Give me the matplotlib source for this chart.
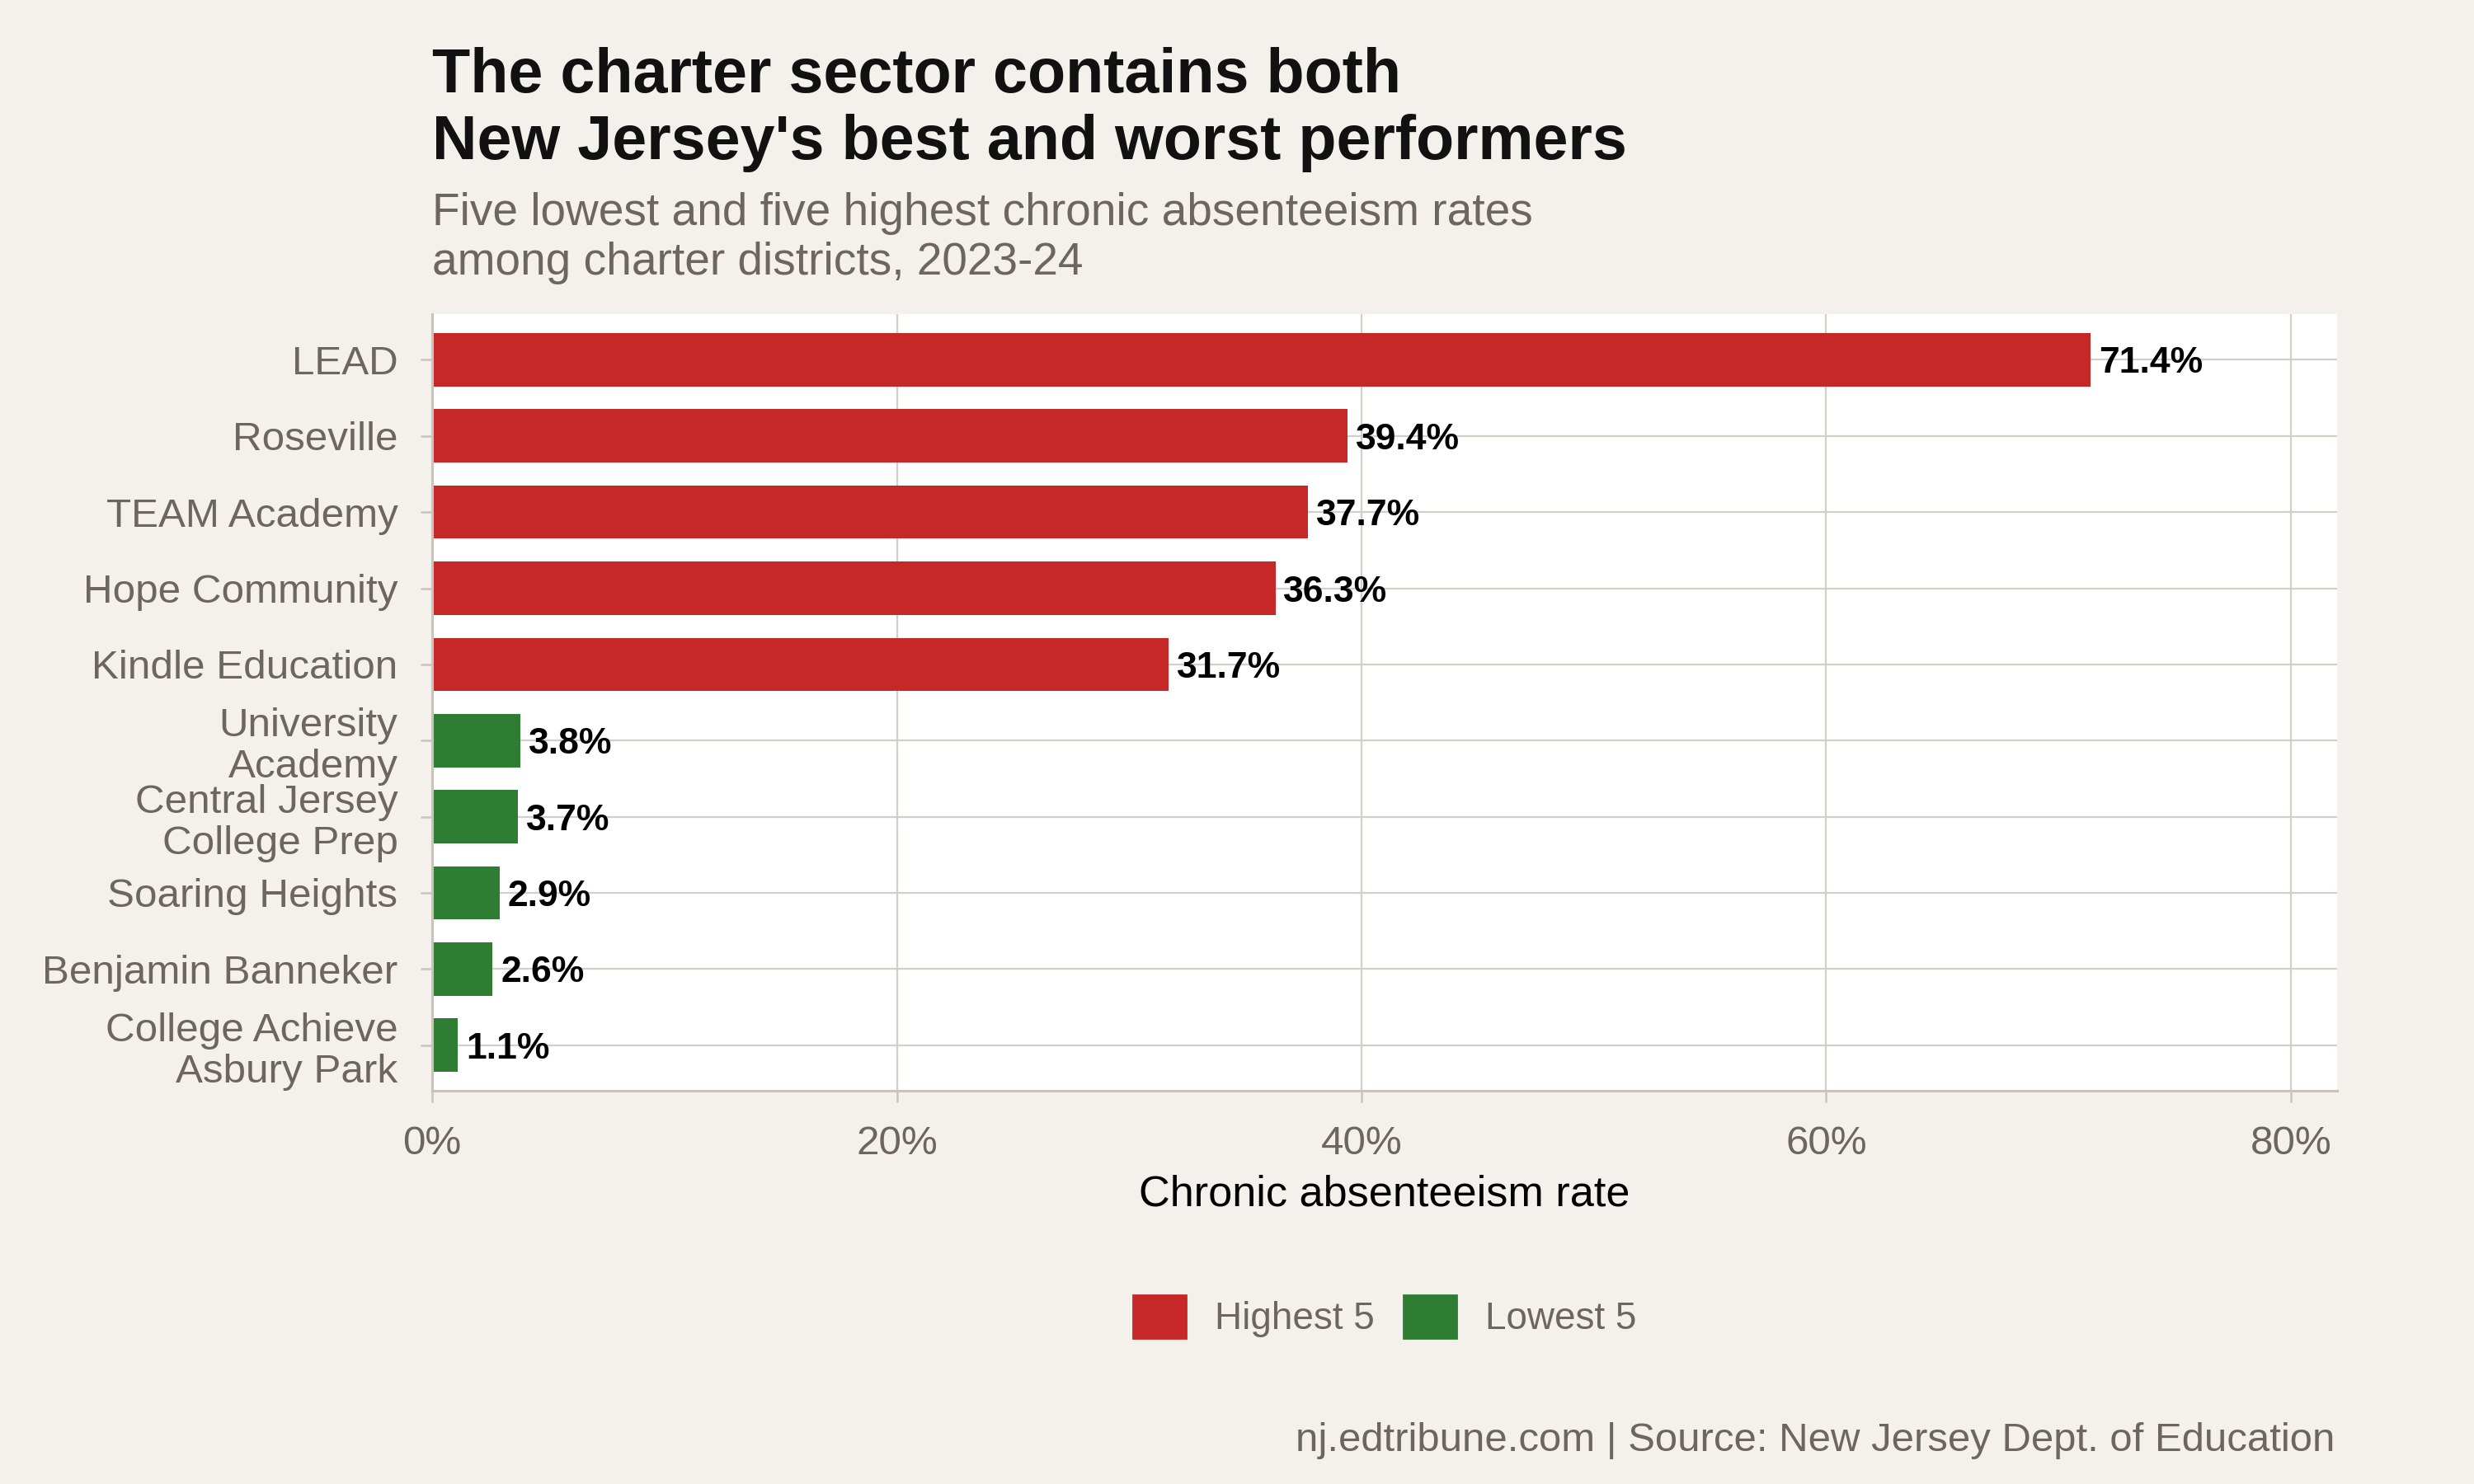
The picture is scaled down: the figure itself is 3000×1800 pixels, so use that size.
import numpy as np
import matplotlib.pyplot as plt
from matplotlib.patches import Patch

plt.rcParams['font.family'] = ['Liberation Sans', 'DejaVu Sans']

# data, top to bottom
districts = ["LEAD", "Roseville", "TEAM Academy", "Hope Community", "Kindle Education",
             "University\nAcademy", "Central Jersey\nCollege Prep", "Soaring Heights",
             "Benjamin Banneker", "College Achieve\nAsbury Park"]
rates = [71.4, 39.4, 37.7, 36.3, 31.7, 3.8, 3.7, 2.9, 2.6, 1.1]
groups = ["Highest 5"] * 5 + ["Lowest 5"] * 5

group_colors = {"Highest 5": "#c62828", "Lowest 5": "#2e7d32"}
bg = "#f4f1ec"
grid_col = "#d4cec6"
axis_col = "#cac3ba"
gray_txt = "#6b6661"

fig = plt.figure(figsize=(15, 9), dpi=200, facecolor=bg)
ax = fig.add_axes([0.1747, 0.265, 0.77, 0.5233])
ax.set_facecolor("white")

n = len(districts)
y = np.arange(n)[::-1]
colors = [group_colors[g] for g in groups]
ax.barh(y, rates, height=0.7, color=colors, zorder=3)

for yi, v in zip(y, rates):
    ax.annotate(f"{v:.1f}%", xy=(v, yi), xytext=(3.5, 0), textcoords="offset points",
                ha="left", va="center_baseline", fontsize=16, fontweight="bold",
                color="black", zorder=4)

ax.set_xlim(0, 82)
ax.set_ylim(-0.6, n - 0.4)
ax.set_xticks([0, 20, 40, 60, 80])
ax.set_xticklabels(["0%", "20%", "40%", "60%", "80%"])
ax.set_yticks(y)
ax.set_yticklabels(districts, linespacing=1.15)

ax.grid(True, color=grid_col, linewidth=0.8, zorder=0)
ax.set_axisbelow(True)
for s in ["top", "right"]:
    ax.spines[s].set_visible(False)
for s in ["left", "bottom"]:
    ax.spines[s].set_color(axis_col)
    ax.spines[s].set_linewidth(1.1)
    ax.spines[s].set_zorder(5)

ax.tick_params(axis="both", colors=axis_col, length=5, width=0.9, labelcolor=gray_txt,
               labelsize=17.8, pad=10)

ax.set_xlabel("Chronic absenteeism rate", fontsize=18.8, color="black", labelpad=5.4)

# titles
x0 = 0.1747
fig.text(x0, 1 - 112 / 1800, "The charter sector contains both", fontsize=27.2,
         fontweight="bold", color="#111111", va="baseline", ha="left")
fig.text(x0, 1 - 193 / 1800, "New Jersey's best and worst performers", fontsize=27.2,
         fontweight="bold", color="#111111", va="baseline", ha="left")
fig.text(x0, 1 - 273 / 1800, "Five lowest and five highest chronic absenteeism rates",
         fontsize=19.8, color=gray_txt, va="baseline", ha="left")
fig.text(x0, 1 - 333 / 1800, "among charter districts, 2023-24",
         fontsize=19.8, color=gray_txt, va="baseline", ha="left")

# legend
handles = [Patch(color=group_colors[g], label=g) for g in ["Highest 5", "Lowest 5"]]
leg = fig.legend(handles=handles, loc="center", bbox_to_anchor=(0.5597, 1 - 1597 / 1800),
                 ncol=2, frameon=False, fontsize=16.5, handlelength=1.4, handleheight=1.4,
                 handletextpad=0.76, columnspacing=0.78, borderpad=0)
for t in leg.get_texts():
    t.set_color(gray_txt)

fig.text(0.9437, 1 - 1760 / 1800, "nj.edtribune.com | Source: New Jersey Dept. of Education",
         fontsize=17.7, color=gray_txt, ha="right", va="baseline")

fig.savefig("out.png", dpi=200, facecolor=bg)
